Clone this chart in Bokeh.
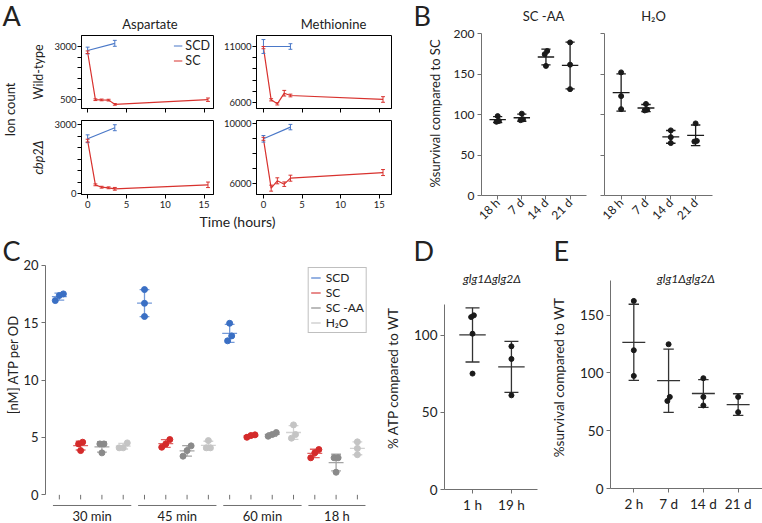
import numpy as np
from math import pi
from bokeh.plotting import figure
from bokeh.layouts import row, column
from bokeh.models import Range1d, FixedTicker, Legend, LegendItem
from bokeh.core.properties import value
from bokeh.embed import file_html
from bokeh.resources import INLINE

FONT = "Lato"
BLUE = "#4a78c8"
RED = "#d8322e"
AX = "#707070"
TXT = "#222222"

# ---------------- Panel A data (ion counts) ----------------
a_time_scd = [0, 3.5]
a_time_sc = [0, 1, 1.8, 2.7, 3.5, 15.5]
a_xticks = [0, 5, 10, 15]
asp_wt_scd = [2810, 3150]
asp_wt_scd_err = [160, 140]
asp_wt_sc = [2730, 490, 480, 470, 270, 490]
asp_wt_sc_err = [60, 40, 40, 40, 40, 80]
met_wt_scd = [11000, 11000]
met_wt_scd_err = [620, 250]
met_wt_sc = [10900, 6240, 5880, 6830, 6625, 6270]
met_wt_sc_err = [100, 100, 100, 250, 120, 250]
asp_cbp_scd = [2380, 2860]
asp_cbp_scd_err = [170, 130]
asp_cbp_sc = [2300, 378, 274, 248, 204, 378]
asp_cbp_sc_err = [60, 40, 40, 40, 60, 120]
met_cbp_scd = [8980, 9760]
met_cbp_scd_err = [220, 180]
met_cbp_sc = [8980, 5690, 6180, 5955, 6355, 6730]
met_cbp_sc_err = [100, 200, 200, 150, 200, 200]

# ---------------- Panel B data (% survival vs SC) ----------------
b_days = ["18 h", "7 d", "14 d", "21 d"]
b_scaa = [[98, 92, 91], [101, 94, 93], [178.4, 174.5, 160], [189, 161.5, 131.3]]
b_h2o = [[152, 122.7, 106.6], [113, 106, 105], [80.4, 72, 64.7], [89, 67.4, 66.6]]
b_yticks = [0, 50, 100, 150, 200]

# ---------------- Panel C data ([nM] ATP per OD) ----------------
c_groups = ["30 min", "45 min", "60 min", "18 h"]
c_media = ["SCD", "SC", "SC -AA", "H₂O"]
c_scd = [[17.38, 17.52, 16.94], [17.9, 16.7, 15.55], [14.96, 13.86, 13.43], None]
c_sc = [[4.59, 4.44, 3.86], [4.82, 4.44, 4.15], [5.23, 5.17, 5.02], [3.95, 3.66, 3.23]]
c_scaa = [[4.44, 4.44, 3.66], [4.27, 3.86, 3.37], [5.43, 5.26, 5.11], [3.23, 3.23, 1.97]]
c_h2o = [[4.53, 4.1, 4.1], [4.73, 4.1, 4.1], [6.10, 5.26, 4.94], [4.62, 4.05, 3.5]]
c_yticks = [0, 5, 10, 15, 20]

# ---------------- Panel D data (% ATP vs WT) ----------------
d_times = ["1 h", "19 h"]
d_atp = [[113, 111.9, 101.1, 75.2], [92.9, 84.7, 61.1]]
d_yticks = [0, 50, 100]

# ---------------- Panel E data (% survival vs WT) ----------------
e_days = ["2 h", "7 d", "14 d", "21 d"]
e_surv = [[162.4, 119.7, 97.5], [124.9, 79.3, 75.8], [95.5, 79.3, 71.9], [79.3, 66.1]]
e_yticks = [0, 50, 100, 150]


def base(w, h, xr, yr, bl, br, bt, bb, axes=True):
    kw = {}
    if not axes:
        kw = dict(x_axis_type=None, y_axis_type=None)
    p = figure(width=w, height=h, x_range=Range1d(*xr), y_range=Range1d(*yr),
               output_backend="svg", toolbar_location=None,
               min_border_left=bl, min_border_right=br,
               min_border_top=bt, min_border_bottom=bb, **kw)
    p.frame_align = False
    p.grid.visible = False
    p.outline_line_color = None
    p.background_fill_color = "white"
    p.border_fill_color = "white"
    return p


def blank(w, h):
    return base(w, h, (0, w), (0, h), 0, 0, 0, 0, axes=False)


def txt(p, x, y, text, size="13px", style="normal", align="center", baseline="middle", angle=0.0):
    p.text(x=[x], y=[y], text=[text], angle=angle, text_font=value(FONT), text_font_size=size,
           text_font_style=style, text_align=align, text_baseline=baseline, text_color=TXT)


def style_axis(ax, color, fs, lfs="13px"):
    ax.axis_line_color = color
    ax.major_tick_line_color = color
    ax.minor_tick_line_color = color
    ax.major_tick_in = 0
    ax.major_tick_out = 4
    ax.minor_tick_in = 0
    ax.minor_tick_out = 4
    ax.major_label_text_font = FONT
    ax.major_label_text_font_size = fs
    ax.major_label_text_color = TXT
    ax.major_label_standoff = 3
    ax.axis_label_text_font = FONT
    ax.axis_label_text_font_size = lfs
    ax.axis_label_text_font_style = "normal"
    ax.axis_label_text_color = TXT


def hide_labels(ax):
    ax.major_label_text_font_size = "1px"
    ax.major_label_text_alpha = 0
    ax.major_label_standoff = 0


def errbars(p, x, y, e, cap, color, width=1.0):
    x = np.asarray(x, float); y = np.asarray(y, float); e = np.asarray(e, float)
    kw = dict(line_color=color, line_width=width)
    p.segment(x0=x, y0=y - e, x1=x, y1=y + e, **kw)
    p.segment(x0=x - cap, y0=y - e, x1=x + cap, y1=y - e, **kw)
    p.segment(x0=x - cap, y0=y + e, x1=x + cap, y1=y + e, **kw)


def jitter(vals, thresh, step):
    vals = np.asarray(vals, float)
    off = np.zeros(len(vals))
    order = np.argsort(vals, kind="stable")
    clusters = [[order[0]]]
    for i in order[1:]:
        if vals[i] - vals[clusters[-1][-1]] < thresh:
            clusters[-1].append(i)
        else:
            clusters.append([i])
    for c in clusters:
        n = len(c)
        for k, i in enumerate(c):
            off[i] = (k - (n - 1) / 2) * step
    return off


def dots(p, positions, groups, thr, step, mhalf, chalf, pcolor, lcolor, size=5, lw=1.3):
    px, py, mx, my, elo, ehi = [], [], [], [], [], []
    for pos, vals in zip(positions, groups):
        v = np.asarray(vals, float)
        off = jitter(v, thr, step)
        px += list(pos + off); py += list(v)
        m = v.mean(); s = v.std(ddof=1)
        mx.append(pos); my.append(m); elo.append(m - s); ehi.append(m + s)
    mx = np.array(mx); my = np.array(my); elo = np.array(elo); ehi = np.array(ehi)
    kw = dict(line_color=lcolor, line_width=lw)
    p.segment(x0=mx, y0=elo, x1=mx, y1=ehi, **kw)
    p.segment(x0=mx - chalf, y0=elo, x1=mx + chalf, y1=elo, **kw)
    p.segment(x0=mx - chalf, y0=ehi, x1=mx + chalf, y1=ehi, **kw)
    r = p.segment(x0=mx - mhalf, y0=my, x1=mx + mhalf, y1=my, **kw)
    p.scatter(px, py, size=size, fill_color=pcolor, line_color=pcolor)
    return r


# ================= Panel A =================
def a_fig(w, h, xr, yr, bl, br, bt, bb, yt, ymin, scd, scd_e, sc, sc_e, show_x, ylab=None, italic=False):
    p = base(w, h, xr, yr, bl, br, bt, bb)
    p.outline_line_color = "black"
    p.outline_line_width = 1
    for ax in p.axis:
        style_axis(ax, "black", "9.5px", "12.5px")
        ax.major_label_standoff = 1
    p.xaxis.ticker = FixedTicker(ticks=a_xticks)
    p.yaxis.ticker = FixedTicker(ticks=yt, minor_ticks=ymin)
    p.xaxis.major_label_standoff = 2
    if not show_x:
        hide_labels(p.xaxis[0])
    if ylab:
        p.yaxis.axis_label = ylab
        p.yaxis.axis_label_standoff = 5
        if italic:
            p.yaxis.axis_label_text_font_style = "italic"
    r_scd = p.line(a_time_scd, scd, line_color=BLUE, line_width=1.2)
    r_sc = p.line(a_time_sc, sc, line_color=RED, line_width=1.2)
    errbars(p, a_time_scd, scd, scd_e, 0.25, BLUE)
    errbars(p, a_time_sc, sc, sc_e, 0.25, RED)
    return p, r_scd, r_sc


asp_wt, r1, r2 = a_fig(192, 83, (-0.79, 16.21), (75, 3519), 49, 7, 4, 6,
                       [500, 3000], [1000, 1500, 2000, 2500],
                       asp_wt_scd, asp_wt_scd_err, asp_wt_sc, asp_wt_sc_err, False, "Wild-type")
leg_a = Legend(items=[LegendItem(label="SCD", renderers=[r1]), LegendItem(label="SC", renderers=[r2])],
               location="top_right", border_line_color=None, background_fill_alpha=0,
               label_text_font=FONT, label_text_font_size="12.5px", label_text_color=TXT,
               glyph_width=9, glyph_height=15, label_height=15, spacing=0, padding=0,
               margin=3, label_standoff=3)
asp_wt.add_layout(leg_a)

met_wt, _, _ = a_fig(185, 83, (-0.9, 16.6), (5464, 11982), 33, 14, 4, 6,
                     [6000, 11000], [7000, 8000, 9000, 10000],
                     met_wt_scd, met_wt_scd_err, met_wt_sc, met_wt_sc_err, False)

asp_cbp, _, _ = a_fig(192, 98, (-0.79, 16.21), (-43, 3174), 49, 7, 6, 18,
                      [0, 3000], [500, 1000, 1500, 2000, 2500],
                      asp_cbp_scd, asp_cbp_scd_err, asp_cbp_sc, asp_cbp_sc_err, True, "cbp2Δ", True)
met_cbp, _, _ = a_fig(185, 98, (-0.9, 16.6), (5267, 10200), 33, 14, 6, 18,
                      [6000, 10000], [7000, 8000, 9000],
                      met_cbp_scd, met_cbp_scd_err, met_cbp_sc, met_cbp_sc_err, True)

a0 = blank(28, 230)
txt(a0, 2, 215, "A", size="27px", align="left")
txt(a0, 9, 121, "Ion count", angle=pi / 2)

hdr_a = blank(377, 31)
txt(hdr_a, 121.5, 8, "Aspartate")
txt(hdr_a, 305, 8, "Methionine")

tfig = blank(377, 18)
txt(tfig, 209, 9, "Time (hours)", size="14px")

panel_a = row(a0, column(hdr_a, row(asp_wt, met_wt), row(asp_cbp, met_cbp), tfig))

# ================= Panel B =================
b_pos = np.arange(1, len(b_days) + 1)


def b_fig(w, bl, br, show_y):
    p = base(w, 206, (0.33, 4.68), (0, 200), bl, br, 9, 27)
    for ax in p.axis:
        style_axis(ax, AX, "12px", "13px")
    p.yaxis.ticker = FixedTicker(ticks=b_yticks)
    p.xaxis.ticker = FixedTicker(ticks=list(b_pos))
    p.xaxis.major_label_overrides = {int(k): v for k, v in zip(b_pos, b_days)}
    p.xaxis.major_label_orientation = pi / 4
    p.xaxis.major_label_standoff = 1
    if not show_y:
        hide_labels(p.yaxis[0])
    return p


bl_fig = blank(45, 230)
txt(bl_fig, 8, 215, "B", size="27px", align="left")
txt(bl_fig, 29, 117, "%survival compared to SC", angle=pi / 2)

b1 = b_fig(140, 28, 4, True)
dots(b1, b_pos, b_scaa, 6, 0.1, 0.34, 0.19, "#1a1a1a", "#1a1a1a", size=5)
b2 = b_fig(172, 14, 50, False)
dots(b2, b_pos, b_h2o, 6, 0.1, 0.34, 0.19, "#1a1a1a", "#1a1a1a", size=5)

hdr_b1 = blank(140, 24)
txt(hdr_b1, 93, 9, "SC -AA")
hdr_b2 = blank(172, 24)
txt(hdr_b2, 63, 9, "H₂O")

panel_b = row(bl_fig, column(hdr_b1, b1), column(hdr_b2, b2))

# ================= Panel C =================
cl = blank(20, 293)
txt(cl, 2, 273, "C", size="27px", align="left")
txt(cl, 12, 159, "[nM] ATP per OD", angle=pi / 2)

c = base(362, 293, (-0.65, 14.71), (-2.5, 20.26), 21, 10, 32, 0)
c.xaxis.visible = False
style_axis(c.yaxis[0], AX, "13px", "13px")
c.yaxis.ticker = FixedTicker(ticks=c_yticks)
c.yaxis.bounds = (0, 20)

c_series = [c_scd, c_sc, c_scaa, c_h2o]
c_pcol = ["#3a6fc4", "#d42a2a", "#8a8a8a", "#c4c4c4"]
c_lcol = ["#7399d8", "#e06464", "#a4a4a4", "#d2d2d2"]
pos_map = {}
idx = 0
group_span = []
for g in range(len(c_groups)):
    start = idx
    for m in range(len(c_media)):
        if c_series[m][g] is not None:
            pos_map[(m, g)] = idx
            idx += 1
    group_span.append((start, idx - 1))

items = []
for m in range(len(c_media)):
    poss = [pos_map[(m, g)] for g in range(len(c_groups)) if c_series[m][g] is not None]
    vals = [c_series[m][g] for g in range(len(c_groups)) if c_series[m][g] is not None]
    r = dots(c, np.array(poss, float), vals, 0.52, 0.19, 0.35, 0.23, c_pcol[m], c_lcol[m], size=6)
    items.append(LegendItem(label=c_media[m], renderers=[r]))

all_pos = np.array(sorted(pos_map.values()), float)
c.segment(x0=all_pos, y0=0, x1=all_pos, y1=-0.4, line_color=AX, line_width=1)
gs = np.array([s for s, e in group_span], float) - 0.3
ge = np.array([e for s, e in group_span], float) + 0.38
c.segment(x0=gs, y0=-0.93, x1=ge, y1=-0.93, line_color=AX, line_width=1)
c.text(x=(gs + ge) / 2, y=-1.81, text=c_groups, text_font=value(FONT), text_font_size="13px",
       text_align="center", text_baseline="middle", text_color=TXT)

leg_c = Legend(items=items, location="top_right", border_line_color="#808080", border_line_width=1,
               background_fill_color="white", background_fill_alpha=1,
               label_text_font=FONT, label_text_font_size="12px", label_text_color=TXT,
               glyph_width=10, glyph_height=15, label_height=15, spacing=0, padding=2,
               margin=5, label_standoff=5)
c.add_layout(leg_c)

# ================= Panel D =================
d_pos = np.arange(1, len(d_times) + 1)
d = base(166, 257, (0.28, 2.67), (0, 144.7), 53, 11, 0, 34)
for ax in d.axis:
    style_axis(ax, AX, "13.5px", "13.5px")
d.yaxis.ticker = FixedTicker(ticks=d_yticks)
d.yaxis.bounds = (0, 120)
d.yaxis.axis_label = "% ATP compared to WT"
d.yaxis.axis_label_standoff = 10
d.xaxis.ticker = FixedTicker(ticks=list(d_pos))
d.xaxis.major_label_overrides = {int(k): v for k, v in zip(d_pos, d_times)}
dots(d, d_pos, d_atp, 3.2, 0.07, 0.34, 0.18, "#1a1a1a", "#333333", size=5)
txt(d, 1.5, 137, "glg1Δglg2Δ", size="12px", style="italic")
hdr_d = blank(166, 36)
txt(hdr_d, 31, 16, "D", size="27px", align="left")

# ================= Panel E =================
e_pos = np.arange(1, len(e_days) + 1)
e = base(214, 257, (0.33, 4.70), (0, 192.2), 59, 0, 0, 35)
for ax in e.axis:
    style_axis(ax, AX, "13.5px", "13.5px")
e.yaxis.ticker = FixedTicker(ticks=e_yticks)
e.yaxis.bounds = (0, 180)
e.yaxis.axis_label = "%survival compared to WT"
e.yaxis.axis_label_standoff = 10
e.xaxis.ticker = FixedTicker(ticks=list(e_pos))
e.xaxis.major_label_overrides = {int(k): v for k, v in zip(e_pos, e_days)}
dots(e, e_pos, e_surv, 4.3, 0.07, 0.33, 0.15, "#1a1a1a", "#333333", size=5)
txt(e, 2.5, 182, "glg1Δglg2Δ", size="12px", style="italic")
hdr_e = blank(214, 36)
txt(hdr_e, 5, 16, "E", size="27px", align="left")

layout = column(row(panel_a, panel_b),
                row(cl, c, column(hdr_d, d), column(hdr_e, e)))

with open("out.html", "w") as f:
    f.write(file_html(layout, INLINE))
